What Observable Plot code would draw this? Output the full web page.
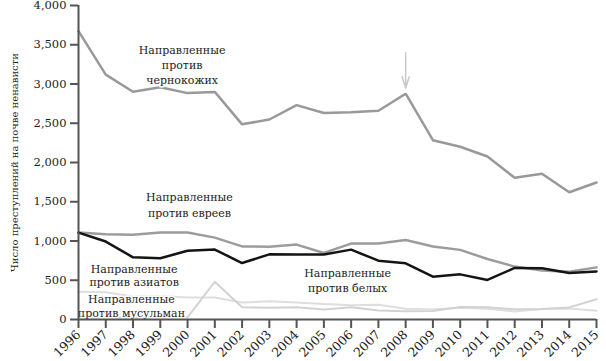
<!DOCTYPE html>
<html><head><meta charset="utf-8">
<script src="https://cdn.jsdelivr.net/npm/d3@7"></script>
<script src="https://cdn.jsdelivr.net/npm/@observablehq/plot@0.6"></script>
<style>body{margin:0;background:#fff} svg{display:block}</style>
</head><body><div id="chart"></div>
<script>
const years = [1996,1997,1998,1999,2000,2001,2002,2003,2004,2005,2006,2007,2008,2009,2010,2011,2012,2013,2014,2015];
const antiBlack  = [3674,3120,2901,2958,2884,2899,2486,2548,2731,2630,2640,2659,2876,2284,2201,2076,1805,1856,1621,1745];
const antiJewish = [1109,1087,1081,1109,1109,1043,931,927,954,848,967,969,1013,931,887,771,674,625,609,664];
const antiWhite  = [1106,993,792,781,875,891,719,830,829,828,890,749,716,545,575,504,657,653,593,613];
const antiAsian  = [355,347,293,298,281,280,217,231,217,199,181,188,137,126,150,138,102,135,140,111];
const antiMuslim = [27,28,21,32,28,481,155,149,156,128,156,115,105,107,160,157,130,135,154,257];
const yTicks = [0,500,1000,1500,2000,2500,3000,3500,4000];
const yLabel = "Число преступлений на почве ненависти";

const seriesDefs = [
  {name: "asian",  values: antiAsian,  color: "#dedede", width: 2},
  {name: "muslim", values: antiMuslim, color: "#d2d2d2", width: 2},
  {name: "black",  values: antiBlack,  color: "#999999", width: 2.5},
  {name: "jewish", values: antiJewish, color: "#9c9c9c", width: 2.5},
  {name: "white",  values: antiWhite,  color: "#141414", width: 2.5}
];

const labels = [
  {year: 1999.8, value: 3430, text: "Направленные"},
  {year: 1999.8, value: 3240, text: "против"},
  {year: 1999.8, value: 3050, text: "чернокожих"},
  {year: 2000.07, value: 1554, text: "Направленные"},
  {year: 2000.07, value: 1350, text: "против евреев"},
  {year: 1998.04, value: 637, text: "Направленные"},
  {year: 1998.04, value: 471, text: "против азиатов"},
  {year: 1997.94, value: 255, text: "Направленные"},
  {year: 1997.94, value: 76, text: "против мусульман"},
  {year: 2005.87, value: 586, text: "Направленные"},
  {year: 2005.87, value: 395, text: "против белых"}
];
const arrowData = [{x1: 2008, y1: 3400, x2: 2008, y2: 2950}];

const marks = [];
for (const s of seriesDefs) {
  const data = years.map((y, i) => ({year: y, value: s.values[i]}));
  marks.push(Plot.line(data, {x: "year", y: "value", stroke: s.color, strokeWidth: s.width, strokeLinejoin: "miter"}));
}
marks.push(
  Plot.text(labels, {x: "year", y: "value", text: "text", fill: "#222", stroke: "white", strokeWidth: 3, fontSize: 11, textAnchor: "middle"}),
  Plot.arrow(arrowData, {x1: "x1", y1: "y1", x2: "x2", y2: "y2", stroke: "#c8c8c8", strokeWidth: 1.5, headLength: 16, headAngle: 35}),
  Plot.axisY({ticks: yTicks, tickFormat: d3.format(","), tickSize: 8, tickPadding: 4, stroke: "#555", strokeWidth: 2, fontSize: 11.5,
    label: yLabel, labelAnchor: "center", labelArrow: "none", labelOffset: 68}),
  Plot.axisX({ticks: years, tickFormat: () => "", tickSize: 9, stroke: "#555", strokeWidth: 2, label: null}),
  Plot.axisX({ticks: years, tickFormat: d => String(d), tickSize: 0, tickRotate: -45, tickPadding: 13, fontSize: 12.5, label: null}),
  Plot.ruleX([1996], {stroke: "#555", strokeWidth: 2}),
  Plot.ruleY([0], {stroke: "#555", strokeWidth: 2})
);

const chart = Plot.plot({
  width: 606, height: 361,
  marginLeft: 78, marginRight: 10, marginTop: 5, marginBottom: 42,
  style: {fontFamily: "DejaVu Serif", fontSize: "11.5px", background: "white", color: "#222"},
  x: {domain: [1996, 2015]},
  y: {domain: [0, 4000]},
  marks
});
document.getElementById("chart").appendChild(chart);
chart.querySelectorAll("text").forEach(t => { if (t.textContent === yLabel) t.setAttribute("font-size", "10"); });
</script></body></html>
